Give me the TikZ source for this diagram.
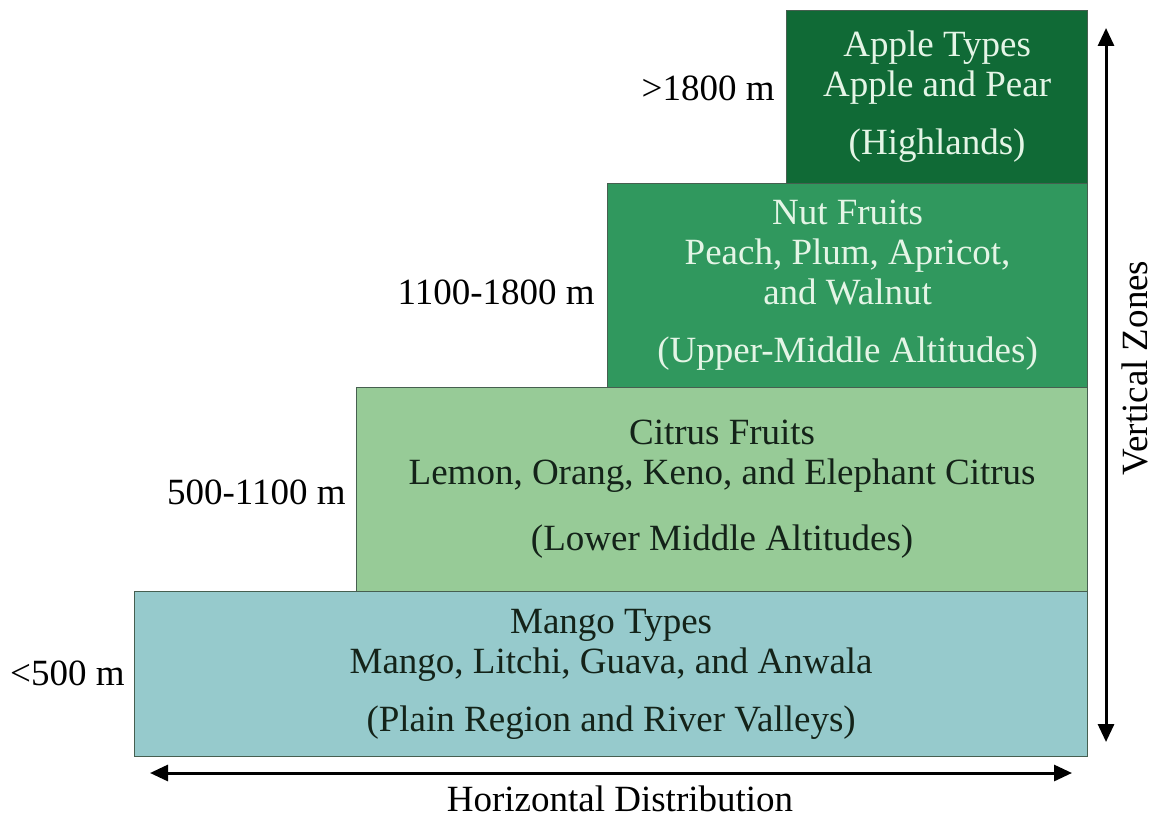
\documentclass[tikz,border=0pt]{standalone}
\usepackage{fontspec}
\setmainfont{Liberation Serif}
\usetikzlibrary{arrows.meta}
\definecolor{applegreen}{RGB}{16,106,54}
\definecolor{nutgreen}{RGB}{48,152,94}
\definecolor{citrusgreen}{RGB}{151,203,151}
\definecolor{mangoblue}{RGB}{150,202,204}
\definecolor{edgegray}{RGB}{70,95,80}
\definecolor{paletext}{RGB}{228,245,230}
\definecolor{darktext}{RGB}{20,35,25}

\begin{document}
\begin{tikzpicture}[x=0.5pt,y=-0.5pt,
  zone/.style={draw=edgegray, line width=0.6pt, rectangle, anchor=north west,
    inner sep=0pt, align=center, font=\fontsize{18.5}{20}\selectfont},
  altlabel/.style={anchor=east, inner sep=0pt, font=\fontsize{18.5}{20}\selectfont},
  axis/.style={line width=1.5pt,
    {Triangle[length=9pt,width=8pt]}-{Triangle[length=9pt,width=8pt]}}
]
\useasboundingbox (0,0) rectangle (1154,818);

\node[zone, fill=applegreen, text=paletext, minimum width=150.5pt, minimum height=86.5pt]
  (apple) at (786,10) {Apple Types\\Apple and Pear\\[9pt](Highlands)};
\node[zone, fill=nutgreen, text=paletext, minimum width=240pt, minimum height=102pt]
  (nut) at (607,183) {Nut Fruits\\Peach, Plum, Apricot,\\and Walnut\\[9pt](Upper-Middle Altitudes)};
\node[zone, fill=citrusgreen, text=darktext, minimum width=365.5pt, minimum height=102pt]
  (citrus) at (356,387) {Citrus Fruits\\Lemon, Orang, Keno, and Elephant Citrus\\[13pt](Lower Middle Altitudes)};
\node[zone, fill=mangoblue, text=darktext, minimum width=476.5pt, minimum height=82.5pt]
  (mango) at (134,591) {Mango Types\\Mango, Litchi, Guava, and Anwala\\[9pt](Plain Region and River Valleys)};

\node[altlabel] (alt4) at (775,88) {>1800 m};
\node[altlabel] (alt3) at (595,292) {1100-1800 m};
\node[altlabel] (alt2) at (346,492) {500-1100 m};
\node[altlabel] (alt1) at (125,673) {<500 m};

\coordinate (vtop) at (1106,28);
\coordinate (vbot) at (1106,742);
\coordinate (hleft) at (150,773);
\coordinate (hright) at (1072,773);
\draw[axis] (vtop) -- (vbot);
\draw[axis] (hleft) -- (hright);

\node[inner sep=0pt, font=\fontsize{18.5}{20}\selectfont] (hlabel) at (620,799) {Horizontal Distribution};
\node[inner sep=0pt, rotate=90, font=\fontsize{18.5}{20}\selectfont] (vlabel) at (1135,368) {Vertical Zones};
\end{tikzpicture}
\end{document}
